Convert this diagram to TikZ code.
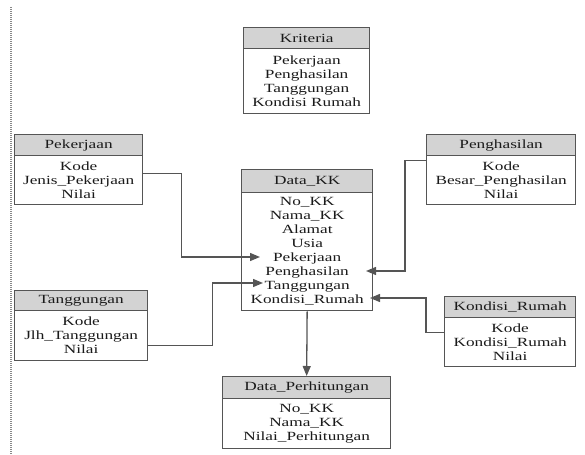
\documentclass[tikz,border=0pt]{standalone}
\usepackage{fontspec}
\setmainfont[FakeStretch=1.38]{Liberation Serif}
\usetikzlibrary{arrows.meta}
\definecolor{linec}{HTML}{555555}
\definecolor{hdrfill}{HTML}{D3D3D3}
\definecolor{txt}{HTML}{1A1A1A}
\tikzset{
 tbl/.style={draw=linec, line width=1.3bp, inner sep=0pt, anchor=north west,
   font=\fontsize{12.5bp}{14bp}\selectfont, text=txt, align=center},
 hdr/.style={tbl, fill=hdrfill},
 bdy/.style={tbl, fill=white},
 conn/.style={draw=linec, line width=1.3bp, -{Triangle[length=10bp,width=8bp]}},
}
\begin{document}
\begin{tikzpicture}[x=1bp,y=-1bp]
\useasboundingbox (0,0) rectangle (585,455);
\draw[linec!70, line width=1.5bp, dash pattern=on 1bp off 1bp] (11,7) -- (11,455);

% Kriteria
\node[hdr, minimum width=126bp, minimum height=21bp] (krh) at (243,27) {Kriteria};
\node[bdy, minimum width=126bp, minimum height=65bp] (krb) at (243,48) {Pekerjaan\\Penghasilan\\Tanggungan\\Kondisi Rumah};

% Pekerjaan
\node[hdr, minimum width=128bp, minimum height=21bp] (pkh) at (14,134) {Pekerjaan};
\node[bdy, minimum width=128bp, minimum height=49bp] (pkb) at (14,155) {Kode\\Jenis\_Pekerjaan\\Nilai};

% Penghasilan
\node[hdr, minimum width=149bp, minimum height=21bp] (phh) at (426,134) {Penghasilan};
\node[bdy, minimum width=149bp, minimum height=49bp] (phb) at (426,155) {Kode\\Besar\_Penghasilan\\Nilai};

% Data_KK
\node[hdr, minimum width=131bp, minimum height=23bp] (dkh) at (241,169) {Data\_KK};
\node[bdy, minimum width=131bp, minimum height=118bp] (dkb) at (241,192) {No\_KK\\Nama\_KK\\Alamat\\Usia\\Pekerjaan\\Penghasilan\\Tanggungan\\Kondisi\_Rumah};

% Tanggungan
\node[hdr, minimum width=133bp, minimum height=20bp] (tgh) at (14,290) {Tanggungan};
\node[bdy, minimum width=133bp, minimum height=50bp] (tgb) at (14,310) {Kode\\Jlh\_Tanggungan\\Nilai};

% Kondisi_Rumah
\node[hdr, minimum width=131bp, minimum height=21bp] (kdh) at (444,296) {Kondisi\_Rumah};
\node[bdy, minimum width=131bp, minimum height=49bp] (kdb) at (444,317) {Kode\\Kondisi\_Rumah\\Nilai};

% Data_Perhitungan
\node[hdr, minimum width=168bp, minimum height=22bp] (dph) at (222,376) {Data\_Perhitungan};
\node[bdy, minimum width=168bp, minimum height=50bp] (dpb) at (222,398) {No\_KK\\Nama\_KK\\Nilai\_Perhitungan};

% arrow targets inside Data_KK
\coordinate (pkin) at (260,257);
\coordinate (tgin) at (263,283);
\coordinate (phin) at (366,271);
\coordinate (kdin) at (370,298);

\draw[conn] ([yshift=6.5bp]pkb.east) -- ++(38,0) |- (pkin);
\draw[conn] ([yshift=-10bp]tgb.east) -- ++(64,0) |- (tgin);
\draw[conn] ([yshift=19.5bp]phb.west) -- ++(-21,0) |- (phin);
\draw[conn] ([yshift=9.5bp]kdb.west) -- ++(-18,0) |- (kdin);
\draw[conn] (dkb.south) -- (dph.north);
\end{tikzpicture}
\end{document}
